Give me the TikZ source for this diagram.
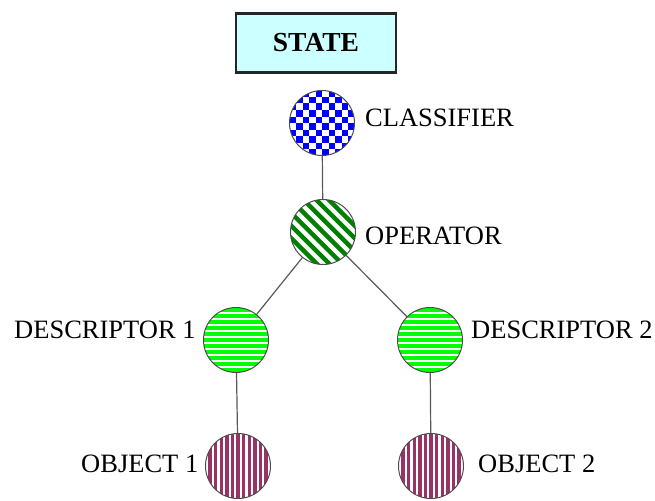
\documentclass[tikz,border=0pt]{standalone}
\usepackage{fontspec}
\setmainfont{Liberation Serif}
\definecolor{boxcyan}{HTML}{CCFFFF}
\definecolor{checkblue}{HTML}{0000FF}
\definecolor{darkgreen}{HTML}{008000}
\definecolor{brightgreen}{HTML}{00FF00}
\definecolor{maroon}{HTML}{993366}
\begin{document}
\begin{tikzpicture}[x=1pt,y=-1pt,
  ball/.style={circle, draw=black!70, line width=1pt, minimum size=65pt, inner sep=0pt},
  checker/.style={ball, path picture={
    \begin{scope}[shift={(path picture bounding box.center)}]
      \foreach \i in {-6,-4,...,4}{\foreach \j in {-6,-4,...,4}{
        \fill[checkblue] (\i*6.5,\j*6.5) rectangle ++(6.5,6.5);
        \fill[checkblue] (\i*6.5+6.5,\j*6.5+6.5) rectangle ++(6.5,6.5);}}
    \end{scope}}},
  diagstripe/.style={ball, path picture={
    \begin{scope}[shift={(path picture bounding box.center)}]
      \foreach \k in {-6,...,6}{\draw[darkgreen, line width=4.4pt] (\k*12.7-50,-50) -- (\k*12.7+50,50);}
    \end{scope}}},
  hstripe/.style={ball, path picture={
    \begin{scope}[shift={(path picture bounding box.center)}]
      \foreach \k in {-7,...,7}{\draw[brightgreen, line width=3.6pt] (-40,\k*6) -- (40,\k*6);}
    \end{scope}}},
  vstripe/.style={ball, path picture={
    \begin{scope}[shift={(path picture bounding box.center)}]
      \foreach \k in {-7,...,7}{\draw[maroon, line width=3.4pt] (\k*5.6,-40) -- (\k*5.6,40);}
    \end{scope}}},
  lbl/.style={inner sep=0pt, font=\fontsize{26.5}{30}\selectfont},
  conn/.style={draw=black!65, line width=1.2pt}
]
\useasboundingbox (0,0) rectangle (655,500);
\node[draw=black!85, line width=2.6pt, fill=boxcyan, minimum width=160pt, minimum height=59pt, inner sep=0pt, font=\fontsize{27.5}{30}\selectfont\bfseries] (state) at (316,43) {STATE};

\node[checker] (cls) at (322,123) {};
\node[diagstripe] (op) at (323,232) {};
\node[hstripe] (d1) at (236,340) {};
\node[hstripe] (d2) at (430,340) {};
\node[vstripe] (o1) at (238,466) {};
\node[vstripe] (o2) at (431,466) {};

\draw[conn] (cls) -- (op);
\draw[conn] (op) -- (d1);
\draw[conn] (op) -- (d2);
\draw[conn] (d1) -- (o1);
\draw[conn] (d2) -- (o2);

\node[lbl, anchor=base west] (lcls) at (365,126) {CLASSIFIER};
\node[lbl, anchor=base west] (lop) at (365,244) {OPERATOR};
\node[lbl, anchor=base west] (ld1) at (14,338) {DESCRIPTOR 1};
\node[lbl, anchor=base west] (ld2) at (471,338) {DESCRIPTOR 2};
\node[lbl, anchor=base west] (lo1) at (81,472) {OBJECT 1};
\node[lbl, anchor=base west] (lo2) at (478,472) {OBJECT 2};
\end{tikzpicture}
\end{document}
